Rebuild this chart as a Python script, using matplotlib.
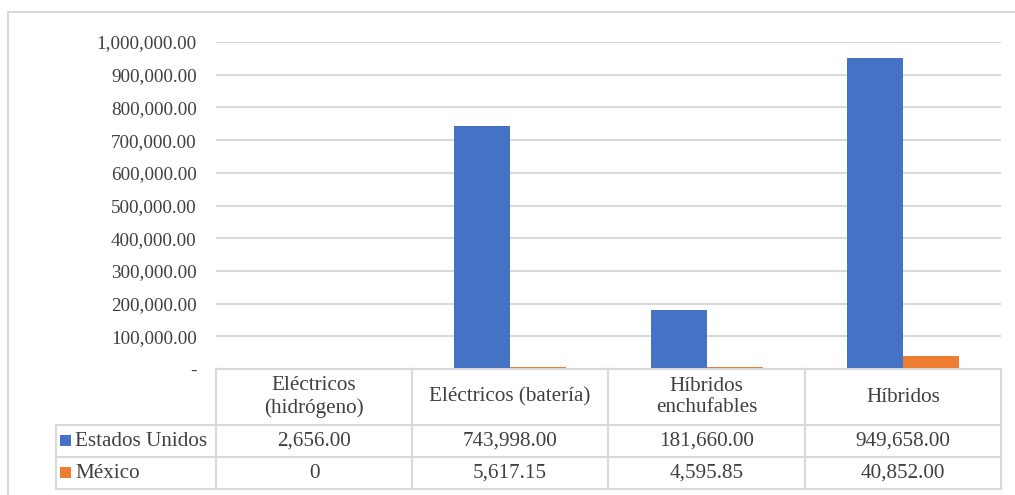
import matplotlib
matplotlib.use("Agg")
import matplotlib.pyplot as plt
from matplotlib.patches import Rectangle
from matplotlib.lines import Line2D
import numpy as np

categories = ["Eléctricos\n(hidrógeno)", "Eléctricos (batería)", "Híbridos\nenchufables", "Híbridos"]
series_names = ["Estados Unidos", "México"]
usa = [2656.00, 743998.00, 181660.00, 949658.00]
mex = [0, 5617.15, 4595.85, 40852.00]
usa_labels = ["2,656.00", "743,998.00", "181,660.00", "949,658.00"]
mex_labels = ["0", "5,617.15", "4,595.85", "40,852.00"]
yticks = [0, 100000, 200000, 300000, 400000, 500000, 600000, 700000, 800000, 900000, 1000000]
colors = ["#4472C4", "#ED7D31"]

plt.rcParams['font.family'] = ['Liberation Serif', 'DejaVu Serif']
W, H = 1015, 495
fig = plt.figure(figsize=(W / 100, H / 100), dpi=100)
txt = "#404040"
grid = "#d9d9d9"
tfs = 15.2

def fx(px):
    return px / W

def fy(py):
    return 1 - py / H

x0, x1, yt, yb = 216, 1001, 42, 369
ax = fig.add_axes([fx(x0), fy(yb), fx(x1) - fx(x0), fy(yt) - fy(yb)])
n = len(categories)
xc = np.arange(n) + 0.5
bw = 0.285
ax.bar(xc - bw / 2, usa, width=bw, color=colors[0], zorder=3)
ax.bar(xc + bw / 2, mex, width=bw, color=colors[1], zorder=3)
ax.set_xlim(0, n)
ax.set_ylim(0, 1000000)
ax.set_yticks(yticks)
ax.set_yticklabels(["-"] + [f"{v:,.2f}" for v in yticks[1:]], fontsize=13.8, color=txt)
ax.tick_params(axis='y', length=0, pad=14)
ax.set_xticks([])
for s in ax.spines.values():
    s.set_visible(False)
ax.yaxis.grid(True, color=grid, linewidth=1.5, zorder=0)
ax.set_axisbelow(True)

# outer frame
fig.add_artist(Rectangle((fx(8), fy(600)), fx(1020) - fx(8), fy(12) - fy(600),
                         transform=fig.transFigure, fill=False, edgecolor=grid, linewidth=1.5))

# data table
col_edges = [216, 412, 608, 805, 1001]
row_y = [369, 425, 457, 489]
lw = 1.5
def hline(xa, xb, y):
    fig.add_artist(Line2D([fx(xa), fx(xb)], [fy(y), fy(y)], color=grid, linewidth=lw))
def vline(x, ya, yb_):
    fig.add_artist(Line2D([fx(x), fx(x)], [fy(ya), fy(yb_)], color=grid, linewidth=lw))

hline(216, 1001, 369)
for y in row_y[1:]:
    hline(56, 1001, y)
vline(56, 425, 489)
for x in col_edges:
    vline(x, 369, 489)

for i, c in enumerate(categories):
    cx = (col_edges[i] + col_edges[i + 1]) / 2
    fig.text(fx(cx), fy(397), c, ha='center', va='center', fontsize=tfs, color=txt, linespacing=1.2)
    fig.text(fx(cx), fy(441), usa_labels[i], ha='center', va='center', fontsize=tfs, color=txt)
    fig.text(fx(cx), fy(473), mex_labels[i], ha='center', va='center', fontsize=tfs, color=txt)

for j, (name, col) in enumerate(zip(series_names, colors)):
    yc = [441, 473][j]
    fig.add_artist(Rectangle((fx(60), fy(yc + 5)), fx(71) - fx(60), fy(yc - 6) - fy(yc + 5),
                             transform=fig.transFigure, facecolor=col, edgecolor='none'))
    fig.text(fx(75), fy(yc), name, ha='left', va='center', fontsize=tfs, color=txt)

fig.savefig("out.png", dpi=100)
